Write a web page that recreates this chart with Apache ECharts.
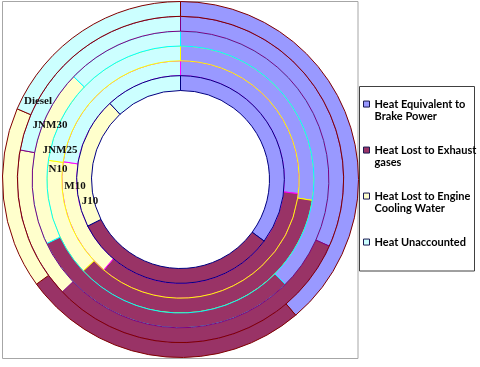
<!DOCTYPE html>
<html>
<head>
<meta charset="utf-8">
<script src="https://cdn.jsdelivr.net/npm/echarts@6/dist/echarts.min.js"></script>
<style>
html,body{margin:0;padding:0;background:#fff;}
#chart{width:480px;height:367px;}
</style>
</head>
<body>
<div id="chart"></div>
<script>
// Data (percent of fuel heat input), rings from inner to outer
const categories = ['J10', 'M10', 'N10', 'JNM25', 'JNM30', 'Diesel'];
const components = ['Heat Equivalent to Brake Power', 'Heat Lost to Exhaust gases', 'Heat Lost to Engine Cooling Water', 'Heat Unaccounted'];
const legendLabels = ['Heat Equivalent to\nBrake Power', 'Heat Lost to Exhaust\ngases', 'Heat Lost to Engine\nCooling Water', 'Heat Unaccounted'];
const brakePower  = [35.1, 26.9, 27.5, 37.5, 31.7, 38.8];
const exhaust     = [32.5, 34.3, 35.5, 30.4, 31.2, 26.2];
const cooling     = [20.5, 16.2, 14.3, 19.3, 15.0, 16.5];
const unaccounted = [11.9, 22.6, 22.7, 12.8, 22.1, 18.5];

// Styles
const fillColors = ['#9999FF', '#993366', '#FFFFCC', '#CCFFFF'];
const ringBorders = ['#000080', '#FF00FF', '#FFFF00', '#00FFFF', '#800080', '#800000'];
const center = [180.5, 179.5];
const rInner = 89, rOuter = 178;
const ringW = (rOuter - rInner) / categories.length;
const labelPos = [[90, 201], [75, 186], [58, 169], [60, 150], [50, 125], [38, 101]];

const values = [brakePower, exhaust, cooling, unaccounted];

const series = categories.map((cat, i) => ({
  type: 'pie',
  name: cat,
  center: center,
  radius: [rInner + i * ringW, rInner + (i + 1) * ringW],
  startAngle: 90,
  clockwise: true,
  silent: true,
  z: i === 0 ? 4 : 2,
  label: { show: false },
  labelLine: { show: false },
  emphasis: { disabled: true },
  itemStyle: { borderColor: ringBorders[i], borderWidth: 1 },
  data: components.map((c, k) => ({
    name: c,
    value: values[k][i],
    itemStyle: { color: fillColors[k] }
  }))
}));

const graphics = [
  { type: 'rect', z: -10, shape: { x: 2.5, y: 1.5, width: 355.5, height: 357 },
    style: { fill: 'none', stroke: '#a6a6a6', lineWidth: 1 } },
  { type: 'rect', z: -10, shape: { x: 359.5, y: 86.5, width: 115, height: 184.5 },
    style: { fill: '#fff', stroke: '#404040', lineWidth: 1 } }
].concat(categories.map((cat, i) => ({
  type: 'text', z: 100,
  x: labelPos[i][0], y: labelPos[i][1],
  style: { text: cat, font: 'bold 11px "Liberation Serif"', fill: '#111',
           align: 'center', verticalAlign: 'middle' }
})));

// pad every legend entry to three lines so that its first text line sits on the icon
function legendText(name) {
  const lines = legendLabels[components.indexOf(name)].split('\n');
  while (lines.length < 2) lines.push(' ');
  return '\n' + lines.join('\n');
}

const chart = echarts.init(document.getElementById('chart'), null, { renderer: 'canvas' });
chart.setOption({
  animation: false,
  backgroundColor: '#fff',
  legend: {
    orient: 'vertical',
    left: 363,
    top: 85,
    padding: 0,
    itemWidth: 6,
    itemHeight: 6,
    itemGap: 7.9,
    icon: 'rect',
    selectedMode: false,
    itemStyle: { borderColor: '#1a1a50', borderWidth: 1 },
    textStyle: { fontFamily: 'Lato', fontWeight: 'bold', fontSize: 11, lineHeight: 12.7, color: '#000' },
    formatter: legendText,
    data: components
  },
  graphic: graphics,
  series: series
});
</script>
</body>
</html>
